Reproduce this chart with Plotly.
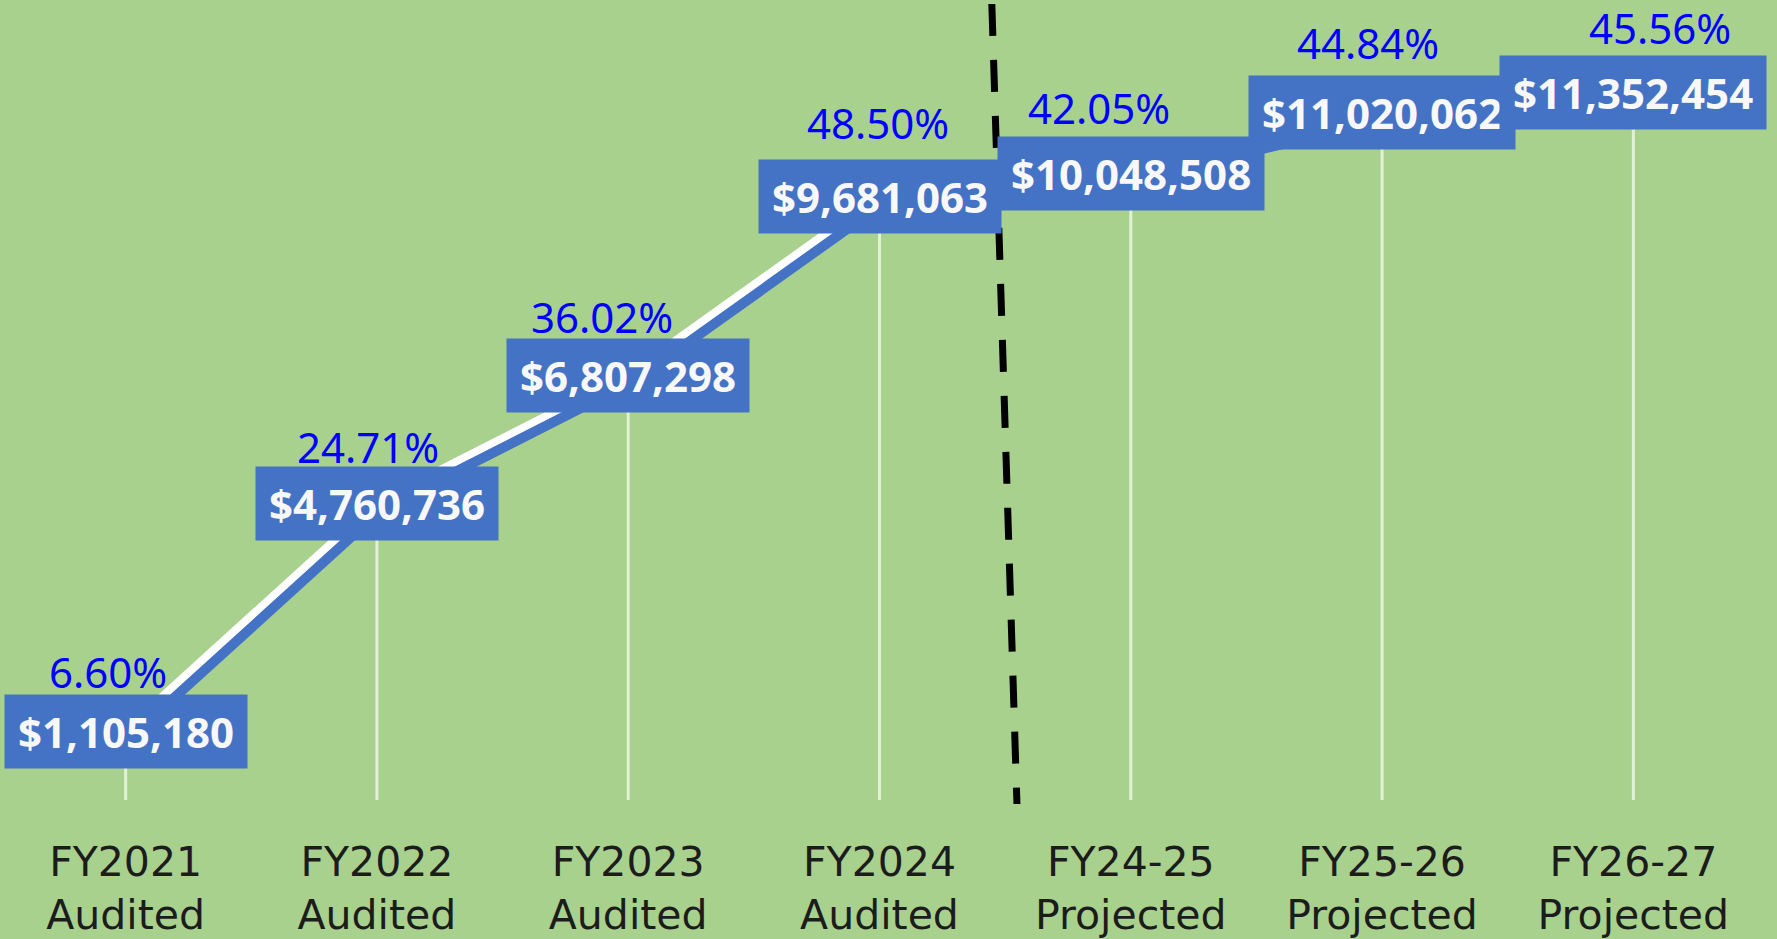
import plotly.graph_objects as go

# ---- data ----
categories = ["FY2021<br>Audited", "FY2022<br>Audited", "FY2023<br>Audited", "FY2024<br>Audited",
              "FY24-25<br>Projected", "FY25-26<br>Projected", "FY26-27<br>Projected"]
amounts = [1105180, 4760736, 6807298, 9681063, 10048508, 11020062, 11352454]
percent_labels = ["6.60%", "24.71%", "36.02%", "48.50%", "42.05%", "44.84%", "45.56%"]

# ---- layout constants (pixels) ----
W, H = 1777, 939
M_L, M_R, M_T, M_B = 0, 18, 0, 139
PLOT_W = W - M_L - M_R
PLOT_H = H - M_T - M_B
X_RANGE = [-0.5, len(categories) - 0.5]
Y_MAX = 12.83e6
px_per_x = PLOT_W / (X_RANGE[1] - X_RANGE[0])
px_per_y = PLOT_H / Y_MAX

# hand placed offsets of the percentage labels (px)
pct_xshift = [-18, -9, -26, -2, -32, -14, 27]
pct_yshift = [60, 57, 59, 74, 66, 70, 65]

GREEN = "#A9D18E"
BLUE = "#4472C4"

xs = list(range(len(categories)))
labels = ["${:,}".format(v) for v in amounts]

fig = go.Figure()

# drop lines
dx, dy = [], []
for i, v in zip(xs, amounts):
    dx += [i, i, None]
    dy += [v, 0, None]
fig.add_trace(go.Scatter(x=dx, y=dy, mode="lines",
                         line=dict(color="rgba(240,248,232,0.8)", width=3),
                         hoverinfo="skip", showlegend=False))

# shadow line (offset axes)
sh_x, sh_y = 5, 6
fig.add_trace(go.Scatter(x=xs, y=amounts, mode="lines", xaxis="x2", yaxis="y2",
                         line=dict(color=BLUE, width=10), hoverinfo="skip", showlegend=False))
# main white line
fig.add_trace(go.Scatter(x=xs, y=amounts, mode="lines",
                         line=dict(color="white", width=10), hoverinfo="skip", showlegend=False))

annotations = []
for i, (v, t) in enumerate(zip(amounts, labels)):
    annotations.append(dict(
        x=i, y=v, xref="x", yref="y", text="<b>%s</b>" % t, showarrow=False,
        xanchor="center", yanchor="middle", width=24.2 * len(t), height=73,
        bgcolor=BLUE, borderpad=0, align="center", valign="middle",
        font=dict(family="Noto Sans", size=42, color="#F8F8F8")))
for i, (v, p) in enumerate(zip(amounts, percent_labels)):
    annotations.append(dict(
        x=i, y=v, xref="x", yref="y", text=p, showarrow=False,
        xanchor="center", yanchor="middle", xshift=pct_xshift[i], yshift=pct_yshift[i],
        font=dict(family="Noto Sans", size=42, color="#0000FF")))

# divider between audited and projected
split = 3.5
fig.add_shape(type="line", xref="x", yref="paper",
              x0=split - 0.053, y0=1 - 4 / PLOT_H,
              x1=split + 0.047, y1=-4 / PLOT_H,
              line=dict(color="black", width=7, dash="32px,24px"), layer="above")

fig.update_layout(
    width=W, height=H,
    margin=dict(l=M_L, r=M_R, t=M_T, b=M_B, autoexpand=False),
    paper_bgcolor=GREEN, plot_bgcolor=GREEN,
    showlegend=False,
    annotations=annotations,
    xaxis=dict(range=X_RANGE, tickmode="array", tickvals=xs, ticktext=categories,
               showgrid=False, zeroline=False, showline=False, ticks="",
               tickfont=dict(family="DejaVu Sans", size=41, color="#1C1C1C"),
               ticklabelstandoff=34, automargin=False, fixedrange=True),
    yaxis=dict(range=[0, Y_MAX], visible=False, showgrid=False, zeroline=False,
               automargin=False, fixedrange=True),
    xaxis2=dict(range=[X_RANGE[0] - sh_x / px_per_x, X_RANGE[1] - sh_x / px_per_x],
                overlaying="x", visible=False, showgrid=False, zeroline=False),
    yaxis2=dict(range=[sh_y / px_per_y, Y_MAX + sh_y / px_per_y],
                overlaying="y", visible=False, showgrid=False, zeroline=False),
)

fig.write_html("out.html", config={"displayModeBar": False},
               post_script="document.body.style.margin='0';document.body.style.overflow='hidden';")
